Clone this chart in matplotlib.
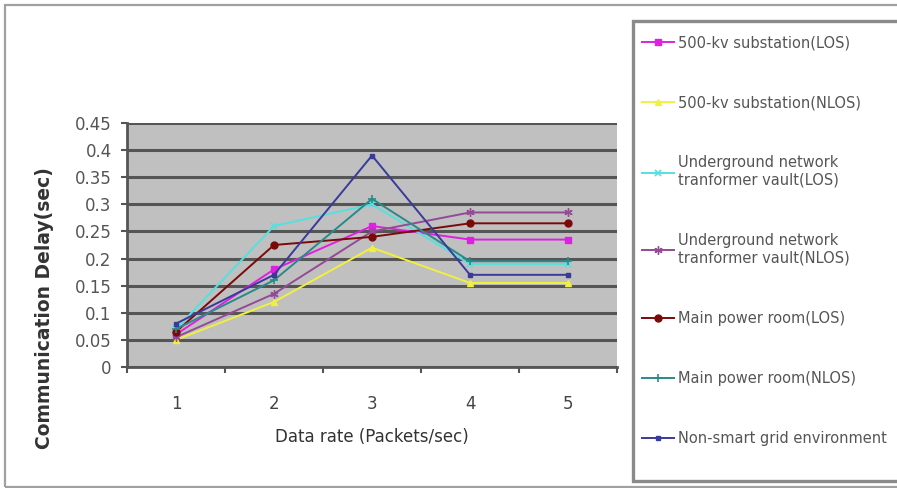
import matplotlib
matplotlib.use("Agg")
import matplotlib.pyplot as plt
from matplotlib.patches import Rectangle

plt.rcParams["font.family"] = ["DejaVu Sans"]

# Delay per data rate for each environment
data_rate = [1, 2, 3, 4, 5]
kv500_los = [0.06, 0.18, 0.26, 0.235, 0.235]
kv500_nlos = [0.05, 0.12, 0.22, 0.155, 0.155]
vault_los = [0.07, 0.26, 0.30, 0.19, 0.19]
vault_nlos = [0.055, 0.135, 0.25, 0.285, 0.285]
power_los = [0.065, 0.225, 0.24, 0.265, 0.265]
power_nlos = [0.07, 0.16, 0.31, 0.195, 0.195]
non_smart = [0.08, 0.17, 0.39, 0.17, 0.17]

labels = [
    "500-kv substation(LOS)",
    "500-kv substation(NLOS)",
    "Underground network\ntranformer vault(LOS)",
    "Underground network\ntranformer vault(NLOS)",
    "Main power room(LOS)",
    "Main power room(NLOS)",
    "Non-smart grid environment",
]
series = [kv500_los, kv500_nlos, vault_los, vault_nlos, power_los, power_nlos, non_smart]
styles = [
    dict(color="#e020e0", marker="s", ms=5),
    dict(color="#f0f040", marker="^", ms=5),
    dict(color="#55e0e0", marker="x", ms=5, mew=1.2),
    dict(color="#944a94", marker=(6, 2, 0), ms=6, mew=1.0),
    dict(color="#7a0a0a", marker="o", ms=5),
    dict(color="#2a8a8a", marker="+", ms=6, mew=1.2),
    dict(color="#3a3a9a", marker="s", ms=3),
]

fig = plt.figure(figsize=(8.97, 4.88), dpi=100)
W, H = 897, 488

# outer chart frame and legend frame
fig.patches.append(Rectangle((5 / W, 1 / H), 1.2, (482 / H), transform=fig.transFigure,
                             fill=False, edgecolor="#a0a0a0", linewidth=1.6))
fig.patches.append(Rectangle((633 / W, (488 - 481) / H), 1.0, (460 / H), transform=fig.transFigure,
                             facecolor="white", edgecolor="#8a8a8a", linewidth=2.4))

ax = fig.add_axes([127 / W, (488 - 367) / H, 490 / W, 244 / H])
ax.set_facecolor("#c0c0c0")

handles = []
for vals, lab, st in zip(series, labels, styles):
    (h,) = ax.plot(data_rate, vals, lw=1.4, label=lab, **st)
    handles.append(h)

ax.set_xlim(0.5, 5.5)
ax.set_ylim(0, 0.45)
yt = [i * 0.05 for i in range(10)]
ax.set_yticks(yt)
ax.set_yticklabels(["0", "0.05", "0.1", "0.15", "0.2", "0.25", "0.3", "0.35", "0.4", "0.45"])
ax.yaxis.grid(True, color="#555555", linewidth=2.2)
ax.set_axisbelow(True)

# category ticks sit between the points, labels under the points
ax.set_xticks([0.5, 1.5, 2.5, 3.5, 4.5, 5.5])
ax.set_xticklabels([])
ax.set_xticks(data_rate, minor=True)
ax.set_xticklabels([str(v) for v in data_rate], minor=True)
ax.tick_params(axis="x", which="major", length=4, width=1.5, color="#555555", direction="out")
ax.tick_params(axis="x", which="minor", length=0, pad=20, labelsize=12, labelcolor="#444444")
ax.tick_params(axis="y", length=4, width=1.5, color="#555555", pad=7, labelsize=12, labelcolor="#555555")

for side in ("top", "right"):
    ax.spines[side].set_visible(False)
for side in ("left", "bottom"):
    ax.spines[side].set_color("#555555")
    ax.spines[side].set_linewidth(2)

ax.set_xlabel("Data rate (Packets/sec)", fontsize=12, color="#333333", va="top")
ax.xaxis.set_label_coords(0.5, -0.25)
ax.set_ylabel("Communication Delay(sec)", fontsize=13.5, fontweight="bold", color="#333333")
ax.yaxis.set_label_coords(-0.15, 0.24)

fig.legend(handles=handles, loc="upper left", bbox_to_anchor=(642 / W, (488 - 35) / H),
           frameon=False, fontsize=10.5, labelcolor="#555555", handlelength=2.2,
           handletextpad=0.3, labelspacing=3.1, borderpad=0, borderaxespad=0)

fig.savefig("out.png", dpi=100)
